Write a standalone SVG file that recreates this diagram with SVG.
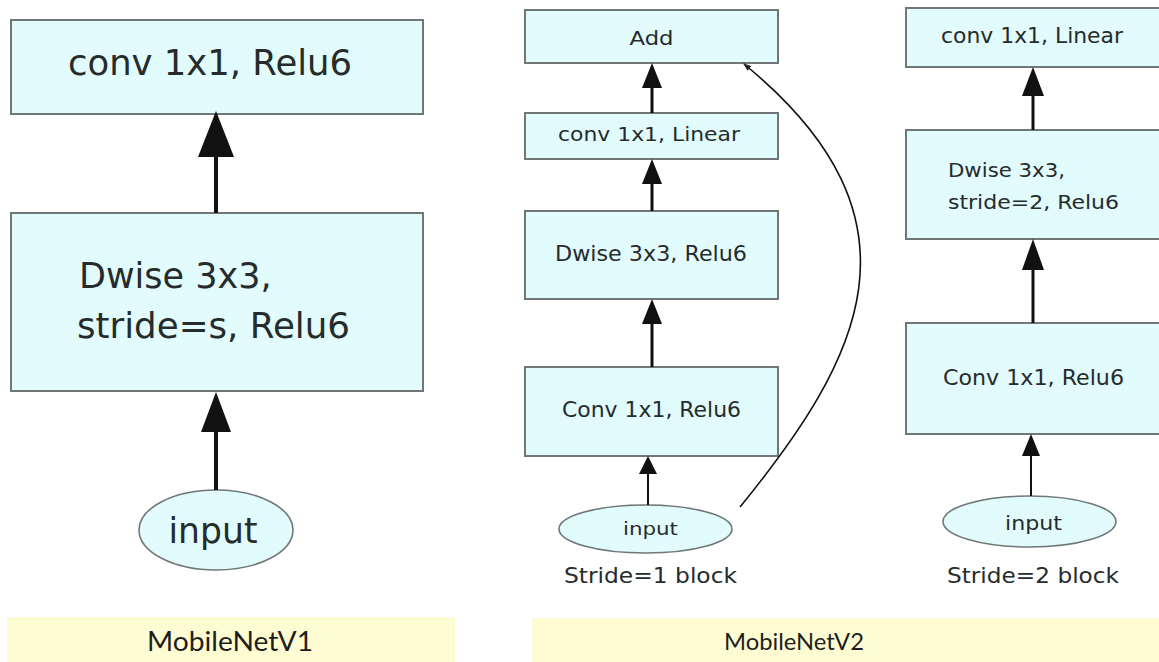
<svg xmlns="http://www.w3.org/2000/svg" width="1159" height="662" viewBox="0 0 1159 662">
<style>
.box{fill:#e2fbfc;stroke:#6f7777;stroke-width:2}
.ell{fill:#e2fbfc;stroke:#6f7777;stroke-width:1.6}
.ban{fill:#fefcd2;stroke:none}
.t{font-family:"DejaVu Sans",Verdana,sans-serif;fill:#262b2b}
.b{font-family:Lato,"Open Sans",sans-serif;fill:#1e1e1e}
.ln{stroke:#111;fill:none}
.hd{fill:#111;stroke:none}
</style>
<defs>
<marker id="sm" markerWidth="8" markerHeight="6" refX="7" refY="3" orient="auto" markerUnits="userSpaceOnUse">
<path d="M0,0 L8,3 L0,6 Z" fill="#222"/>
</marker>
</defs>
<rect width="1159" height="662" fill="#ffffff"/>

<g id="banner-v1">
<rect class="ban" x="7" y="617" width="448" height="45"/>
<text class="b" x="230" y="651" font-size="26" text-anchor="middle" textLength="166" lengthAdjust="spacingAndGlyphs">MobileNetV1</text>
</g>
<g id="banner-v2">
<rect class="ban" x="532" y="618" width="627" height="44"/>
<text class="b" x="794" y="650" font-size="24" text-anchor="middle" textLength="140" lengthAdjust="spacingAndGlyphs">MobileNetV2</text>
</g>

<g id="v1-conv">
<rect class="box" x="11" y="20" width="412" height="94"/>
<text class="t" x="210" y="75" font-size="35" text-anchor="middle" textLength="284" lengthAdjust="spacingAndGlyphs">conv 1x1, Relu6</text>
</g>
<g id="v1-dwise">
<rect class="box" x="11" y="213" width="412" height="178"/>
<text class="t" x="79" y="288" font-size="35">Dwise 3x3,</text>
<text class="t" x="77" y="338" font-size="35" textLength="273" lengthAdjust="spacingAndGlyphs">stride=s, Relu6</text>
</g>
<g id="v1-input">
<ellipse class="ell" cx="216" cy="530" rx="77" ry="40"/>
<text class="t" x="213" y="543" font-size="35" text-anchor="middle" textLength="89" lengthAdjust="spacingAndGlyphs">input</text>
</g>

<g id="s1-add">
<rect class="box" x="525" y="10" width="253" height="53"/>
<text class="t" x="651.5" y="45" font-size="20" text-anchor="middle" textLength="44" lengthAdjust="spacingAndGlyphs">Add</text>
</g>
<g id="s1-linear">
<rect class="box" x="525" y="113" width="253" height="46"/>
<text class="t" x="649" y="141" font-size="19" text-anchor="middle" textLength="182" lengthAdjust="spacingAndGlyphs">conv 1x1, Linear</text>
</g>
<g id="s1-dwise">
<rect class="box" x="525" y="211" width="253" height="88"/>
<text class="t" x="651" y="261" font-size="21" text-anchor="middle" textLength="192" lengthAdjust="spacingAndGlyphs">Dwise 3x3, Relu6</text>
</g>
<g id="s1-conv">
<rect class="box" x="525" y="367" width="253" height="89"/>
<text class="t" x="651.5" y="417" font-size="21" text-anchor="middle" textLength="179" lengthAdjust="spacingAndGlyphs">Conv 1x1, Relu6</text>
</g>
<g id="s1-input">
<ellipse class="ell" cx="645.5" cy="529" rx="86.5" ry="24"/>
<text class="t" x="650.5" y="535" font-size="18" text-anchor="middle" textLength="55" lengthAdjust="spacingAndGlyphs">input</text>
<text class="t" x="564" y="583" font-size="22" textLength="173" lengthAdjust="spacingAndGlyphs">Stride=1 block</text>
</g>

<g id="s2-linear">
<rect class="box" x="906" y="8" width="256" height="59"/>
<text class="t" x="941" y="43" font-size="20.5" textLength="182" lengthAdjust="spacingAndGlyphs">conv 1x1, Linear</text>
</g>
<g id="s2-dwise">
<rect class="box" x="906" y="130" width="256" height="109"/>
<text class="t" x="948" y="177" font-size="20" textLength="117" lengthAdjust="spacingAndGlyphs">Dwise 3x3,</text>
<text class="t" x="948" y="209" font-size="20" textLength="171" lengthAdjust="spacingAndGlyphs">stride=2, Relu6</text>
</g>
<g id="s2-conv">
<rect class="box" x="906" y="323" width="256" height="111"/>
<text class="t" x="943" y="385" font-size="20.5" textLength="181" lengthAdjust="spacingAndGlyphs">Conv 1x1, Relu6</text>
</g>
<g id="s2-input">
<ellipse class="ell" cx="1029.5" cy="521.5" rx="86.5" ry="25.5"/>
<text class="t" x="1033.5" y="530" font-size="19" text-anchor="middle" textLength="57" lengthAdjust="spacingAndGlyphs">input</text>
<text class="t" x="947" y="583" font-size="22" textLength="172" lengthAdjust="spacingAndGlyphs">Stride=2 block</text>
</g>

<g id="connectors">
<line class="ln" x1="216" y1="213" x2="216" y2="150" stroke-width="4"/>
<polygon class="hd" points="216,111 198,157 234,157"/>
<line class="ln" x1="216" y1="490" x2="216" y2="425" stroke-width="4"/>
<polygon class="hd" points="216,392 201,432 231,432"/>

<line class="ln" x1="652" y1="113" x2="652" y2="80" stroke-width="3"/>
<polygon class="hd" points="652,63 642,88 662,88"/>
<line class="ln" x1="652" y1="211" x2="652" y2="175" stroke-width="3"/>
<polygon class="hd" points="652,159 642,184 662,184"/>
<line class="ln" x1="652" y1="367" x2="652" y2="315" stroke-width="3"/>
<polygon class="hd" points="652,299 642,324 662,324"/>
<line class="ln" x1="648" y1="505" x2="648" y2="468" stroke-width="2"/>
<polygon class="hd" points="648,456 639,474 657,474"/>

<path class="ln" d="M740,507 C860,360 935,220 744,64" stroke-width="1.6" marker-end="url(#sm)"/>

<line class="ln" x1="1033" y1="130" x2="1033" y2="90" stroke-width="3"/>
<polygon class="hd" points="1033,67 1022,96 1044,96"/>
<line class="ln" x1="1033" y1="323" x2="1033" y2="262" stroke-width="3"/>
<polygon class="hd" points="1033,239 1022,270 1044,270"/>
<line class="ln" x1="1031" y1="496" x2="1031" y2="450" stroke-width="2"/>
<polygon class="hd" points="1031,434 1022,456 1040,456"/>
</g>
</svg>
